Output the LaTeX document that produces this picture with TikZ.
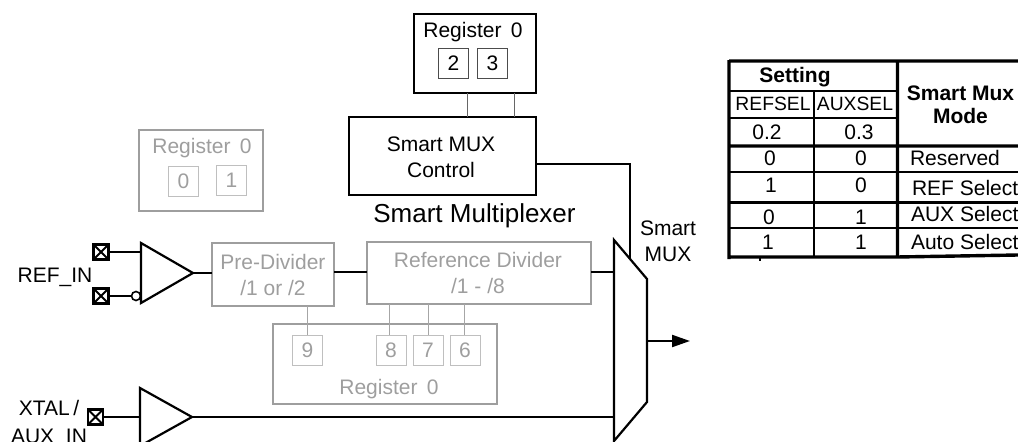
\documentclass[tikz,border=0pt]{standalone}
\usepackage{fontspec}
\setmainfont{Liberation Sans}
\usetikzlibrary{arrows.meta, positioning}

\colorlet{dimgray}{black!38}
\tikzset{
  every node/.style={font=\fontsize{21}{26}\selectfont, inner sep=0pt, outer sep=0pt},
  blockbox/.style={draw, line width=2.2pt, rectangle, anchor=north west, align=center},
  dimbox/.style={blockbox, draw=dimgray, text=dimgray},
  bitbox/.style={draw=black!70, line width=.8pt, rectangle, minimum width=30pt, minimum height=30pt},
  dimbit/.style={bitbox, draw=black!25, text=dimgray},
  wire/.style={line width=2.2pt},
  thinwire/.style={line width=1pt, draw=black!60},
  dimwire/.style={line width=1pt, draw=black!35},
  pad/.style={draw, line width=2.4pt, rectangle, minimum size=15pt, path picture={
    \draw[line width=2pt] (path picture bounding box.north west) -- (path picture bounding box.south east)
      (path picture bounding box.north east) -- (path picture bounding box.south west);}},
  tablehead/.style={font=\fontsize{21}{23}\bfseries},
  tablesmall/.style={font=\fontsize{19.3}{22}\selectfont},
  tablerule/.style={line width=2.2pt},
  tablethick/.style={line width=3.4pt},
}

\begin{document}
\begin{tikzpicture}[x=1pt, y=-1pt, >={Triangle[length=18pt, width=12pt]}]
\useasboundingbox (0,0) rectangle (1018,442);
\clip (0,0) rectangle (1018,442);

% top register
\node[blockbox, minimum width=122pt, minimum height=79pt] (regtop) at (414,14) {};
\node (regtoplabel) at (473,32) {Register\, 0};
\node[bitbox] (bit2) at (453.5,63.5) {2};
\node[bitbox, right=9pt of bit2] (bit3) {3};

% control block
\node[blockbox, minimum width=187pt, minimum height=78pt] (control) at (349,117) {};
\node[align=center] (controllabel) at (441,157) {Smart MUX\\Control};
\draw[thinwire] (467,93) -- (467,117);
\draw[thinwire] (514,93) -- (514,117);
\node (title) at (474.5,216) {\fontsize{26}{30}\selectfont Smart Multiplexer};

% left register, greyed out
\node[dimbox, minimum width=124pt, minimum height=81pt] (regleft) at (139,130) {};
\node[text=dimgray] (regleftlabel) at (202,148) {Register\, 0};
\node[dimbit] (bit0) at (183.5,181.5) {0};
\node[dimbit] (bit1) at (231.5,180.5) {1};

% dividers
\node[dimbox, minimum width=122pt, minimum height=63pt] (prediv) at (212,243) {};
\node[align=center, text=dimgray] at (273,275) {Pre-Divider\\/1 or /2};
\node[dimbox, minimum width=224pt, minimum height=62pt] (refdiv) at (367,242) {};
\node[align=center, text=dimgray] at (478,273) {Reference Divider\\/1 - /8};

% bottom register
\node[dimbox, minimum width=224pt, minimum height=80pt] (regbot) at (273,324) {};
\node[text=dimgray] (regbotlabel) at (389,389) {Register\, 0};
\node[dimbit] (bit9) at (307.5,350) {9};
\node[dimbit] (bit8) at (391,350) {8};
\node[dimbit, right=7pt of bit8] (bit7) {7};
\node[dimbit, right=7pt of bit7] (bit6) {6};
\draw[dimwire] (307,306) -- (307,335);
\draw[dimwire] (389,304) -- (389,335);
\draw[dimwire] (428,304) -- (428,335);
\draw[dimwire] (464,304) -- (464,335);

% amplifiers
\draw[wire, line join=miter] (141,243) coordinate (ampone) -- (193,273) coordinate (amponeout) -- (141,303) -- cycle;
\draw[wire, line join=miter] (140,388) coordinate (amptwo) -- (192,417) coordinate (amptwoout) -- (140,446) -- cycle;

% pads
\node[pad] (padone) at (101,252) {};
\node[pad] (padtwo) at (101,296) {};
\node[pad] (padthree) at (95.5,417) {};
\node (refin) at (55,277) {REF\_IN};
\node[align=center] (auxin) at (49,424) {XTAL\,/\\[2pt]AUX\_IN};
\node[draw, line width=1.6pt, circle, minimum size=9pt] (bubble) at (136,296) {};
\draw[wire] (padone) -- (141,252);
\draw[wire] (padtwo) -- (bubble);
\draw[wire] (padthree) -- (140,417);

% mux
\draw[wire, line join=miter] (614,240) coordinate (muxa) -- (647,279) -- (647,402) -- (614,441) -- cycle;
\coordinate (muxout) at (647,341);
\coordinate (outend) at (690,341);
\node[align=center] (muxlabel) at (668,241) {Smart\\MUX};

% signal wires
\draw[wire] (amponeout) -- (prediv.west |- amponeout);
\draw[wire] (334,272) -- (367,272);
\draw[wire] (591,272) -- (614,272);
\draw[wire] (amptwoout) -- (614,417);
\draw[wire] (536,164) -- (630,164) -- (630,259);
\draw[wire, ->] (muxout) -- (outend);

% table
\draw[tablethick] (729,61) -- (1018,61) (729,146) -- (1018,146) (729,257) -- (897,257) -- (1018,255)
  (729,60) -- (729,259) (897.5,60) -- (897.5,258);
\draw[tablerule] (729,91) -- (897,91) (729,118) -- (897,118)
  (814,91) -- (814,257)
  (729,172) -- (1018,172) (729,202.5) -- (1018,202.5) (729,228) -- (1018,228);
\draw[line width=1.5pt] (760,257) -- (760,261);
\node[tablehead] (hdset) at (795,77) {Setting};
\node[tablehead, align=center] (hdmode) at (960.5,105) {Smart Mux\\Mode};
\node[tablesmall] (hdref) at (773,104) {REFSEL};
\node[tablesmall] (hdaux) at (855,104) {AUXSEL};
\node (bitref) at (767,132) {0.2};
\node (bitaux) at (859,132) {0.3};
\foreach \y/\z/\xa/\a/\b/\xm/\m in {158/158/770/0/0/910/Reserved, 185/188/771/1/0/912/REF Select, 217/214/769/0/1/911/AUX Select, 242/242/768/1/1/911/Auto Select}{
  \node at (\xa,\y) {\a};
  \node at (861,\y) {\b};
  \node[anchor=west] at (\xm,\z) {\m};
}
\end{tikzpicture}
\end{document}
